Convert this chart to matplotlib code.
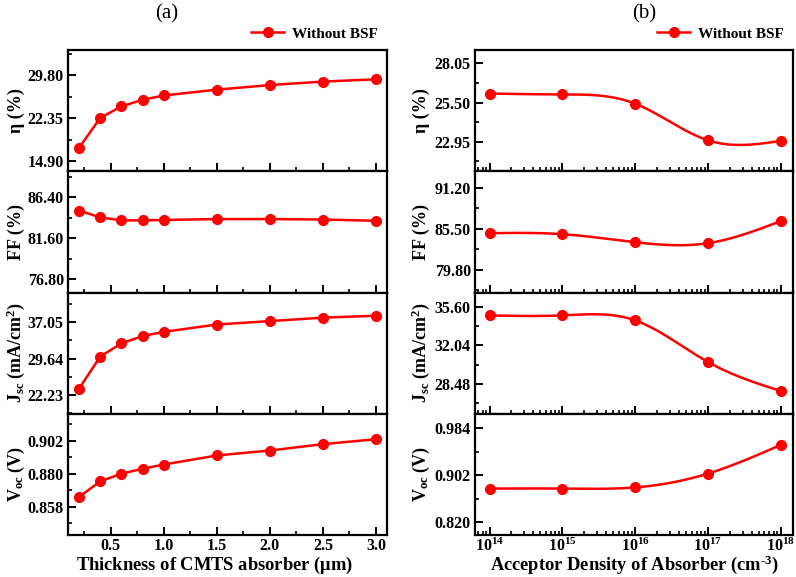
import numpy as np
import matplotlib
matplotlib.use("Agg")
import matplotlib.pyplot as plt
from matplotlib.ticker import MultipleLocator, FixedLocator, LogLocator, NullFormatter, FuncFormatter

plt.rcParams['font.family'] = ['Liberation Serif', 'DejaVu Serif']
plt.rcParams['font.weight'] = 'bold'
plt.rcParams['mathtext.fontset'] = 'custom'
plt.rcParams['mathtext.rm'] = 'Liberation Serif:bold'
plt.rcParams['mathtext.bf'] = 'Liberation Serif:bold'
plt.rcParams['mathtext.it'] = 'Liberation Serif:bold:italic'

# (a) thickness sweep
thickness = [0.2, 0.4, 0.6, 0.8, 1.0, 1.5, 2.0, 2.5, 3.0]
eta_a = [17.2, 22.4, 24.4, 25.55, 26.3, 27.3, 28.1, 28.7, 29.1]
ff_a = [84.85, 84.05, 83.7, 83.7, 83.75, 83.85, 83.85, 83.8, 83.65]
jsc_a = [23.5, 30.05, 32.75, 34.25, 35.1, 36.6, 37.3, 38.0, 38.4]
voc_a = [0.8646, 0.8749, 0.8800, 0.8833, 0.8861, 0.8921, 0.8954, 0.8996, 0.9029]

# (b) acceptor density sweep
density = [1e14, 1e15, 1e16, 1e17, 1e18]
eta_b = [26.09, 26.03, 25.43, 23.04, 23.0]
ff_b = [84.9, 84.76, 83.64, 83.5, 86.57]
jsc_b = [34.83, 34.83, 34.37, 30.5, 27.8]
voc_b = [0.879, 0.879, 0.881, 0.905, 0.955]

ylabels = ['η (%)', 'FF (%)', r'J$_{\rm sc}$ (mA/cm$^{\rm 2}$)', r'V$_{\rm oc}$ (V)']
yticks_a = [[14.90, 22.35, 29.80], [76.80, 81.60, 86.40], [22.23, 29.64, 37.05], [0.858, 0.880, 0.902]]
ylims_a = [(13.15, 34.18), (75.24, 89.46), (18.37, 43.14), (0.8393, 0.9198)]
yticks_b = [[22.95, 25.50, 28.05], [79.80, 85.50, 91.20], [28.48, 32.04, 35.60], [0.820, 0.902, 0.984]]
ylims_b = [(21.02, 28.93), (76.63, 93.53), (25.68, 36.96), (0.798, 1.0095)]
tickfmt = ['%.2f', '%.2f', '%.2f', '%.3f']

RED = '#ff0000'
W, H = 796, 577
fig = plt.figure(figsize=(W / 100, H / 100), dpi=100)


def natural_spline(x, y, n=200):
    x = np.asarray(x, float)
    y = np.asarray(y, float)
    k = len(x)
    h = np.diff(x)
    A = np.zeros((k, k))
    b = np.zeros(k)
    A[0, 0] = A[-1, -1] = 1
    for i in range(1, k - 1):
        A[i, i - 1] = h[i - 1]
        A[i, i] = 2 * (h[i - 1] + h[i])
        A[i, i + 1] = h[i]
        b[i] = 6 * ((y[i + 1] - y[i]) / h[i] - (y[i] - y[i - 1]) / h[i - 1])
    m = np.linalg.solve(A, b)
    xs = np.linspace(x[0], x[-1], n)
    idx = np.clip(np.searchsorted(x, xs) - 1, 0, k - 2)
    t0 = x[idx]
    t1 = x[idx + 1]
    hh = t1 - t0
    ys = (m[idx] * (t1 - xs) ** 3 / (6 * hh) + m[idx + 1] * (xs - t0) ** 3 / (6 * hh)
          + (y[idx] / hh - m[idx] * hh / 6) * (t1 - xs)
          + (y[idx + 1] / hh - m[idx + 1] * hh / 6) * (xs - t0))
    return xs, ys


def style(ax, last):
    for s in ax.spines.values():
        s.set_linewidth(1.6)
    ax.tick_params(axis='both', which='major', direction='in', length=6, width=1.4,
                   labelsize=11.5, right=False, top=False)
    ax.tick_params(axis='both', which='minor', direction='in', length=3, width=1.2,
                   right=False, top=False)
    ax.tick_params(axis='y', pad=3)
    ax.tick_params(axis='x', pad=2)
    if not last:
        ax.tick_params(axis='x', which='both', labelbottom=False)


top_px, bot_px = 50, 535
row_h = (bot_px - top_px) / 4

# left edge, right edge, ylabel x, xlabel centre (pixels)
panels = [
    (68, 387, 16, 214, thickness, [eta_a, ff_a, jsc_a, voc_a], yticks_a, ylims_a, False,
     r'Thickness of CMTS absorber ($\rm\mu$m)'),
    (475, 793, 421, 634, density, [eta_b, ff_b, jsc_b, voc_b], yticks_b, ylims_b, True,
     r'Acceptor Density of Absorber (cm$^{\rm \text{-}3}$)'),
]

for (xl, xr, ylx, xlx, xs, series, yts, yls, logx, xlab) in panels:
    for r in range(4):
        y0 = 1 - (top_px + (r + 1) * row_h) / H
        ax = fig.add_axes([xl / W, y0, (xr - xl) / W, row_h / H])
        ys = series[r]
        if logx:
            ax.set_xscale('log')
            lx, ly = natural_spline(np.log10(xs), ys)
            ax.plot(10 ** lx, ly, color=RED, lw=1.8, zorder=2)
            ax.plot(xs, ys, 'o', color=RED, ms=7, zorder=3)
            ax.set_xlim(10 ** 13.8, 10 ** 18.17)
            ax.xaxis.set_major_locator(FixedLocator(density))
            ax.xaxis.set_minor_locator(LogLocator(base=10, subs=np.arange(2, 10)))
            ax.xaxis.set_minor_formatter(NullFormatter())
            ax.xaxis.set_major_formatter(FuncFormatter(
                lambda v, p: r'$\rm 10^{%d}$' % round(np.log10(v))))
        else:
            ax.plot(xs, ys, '-o', color=RED, lw=1.8, ms=7)
            ax.set_xlim(0.096, 3.104)
            ax.xaxis.set_major_locator(MultipleLocator(0.5))
            ax.xaxis.set_minor_locator(MultipleLocator(0.25))
            ax.xaxis.set_major_formatter(FuncFormatter(lambda v, p: '%.1f' % v))
        ax.set_ylim(*yls[r])
        ax.set_yticks(yts[r])
        step = yts[r][1] - yts[r][0]
        ax.yaxis.set_minor_locator(MultipleLocator(step / 2))
        f = tickfmt[r]
        ax.yaxis.set_major_formatter(FuncFormatter(lambda v, p, f=f: f % v))
        ax.set_ylabel(ylabels[r], fontsize=13, fontweight='bold', va='center')
        ax.yaxis.set_label_coords((ylx - xl) / (xr - xl), 0.5)
        style(ax, r == 3)
        if r == 0:
            ax.plot([], [], '-o', color=RED, lw=1.8, ms=7, label='Without BSF')
            ax.legend(loc='lower right', bbox_to_anchor=(1.0, 1.0), frameon=False,
                      prop={'weight': 'bold', 'size': 11}, handlelength=2.2,
                      borderaxespad=0.2, handletextpad=0.5)
        if r == 3:
            ax.set_xlabel(xlab, fontsize=13.3, fontweight='bold')
            ax.xaxis.set_label_coords((xlx - xl) / (xr - xl), -(565 - bot_px) / row_h)
            ax.xaxis.label.set_va('center')

fig.text(167 / W, 1 - 14 / H, '(a)', fontsize=15, fontweight='normal', ha='center', va='center')
fig.text(644 / W, 1 - 14 / H, '(b)', fontsize=15, fontweight='normal', ha='center', va='center')

fig.savefig('out.png', dpi=100)
